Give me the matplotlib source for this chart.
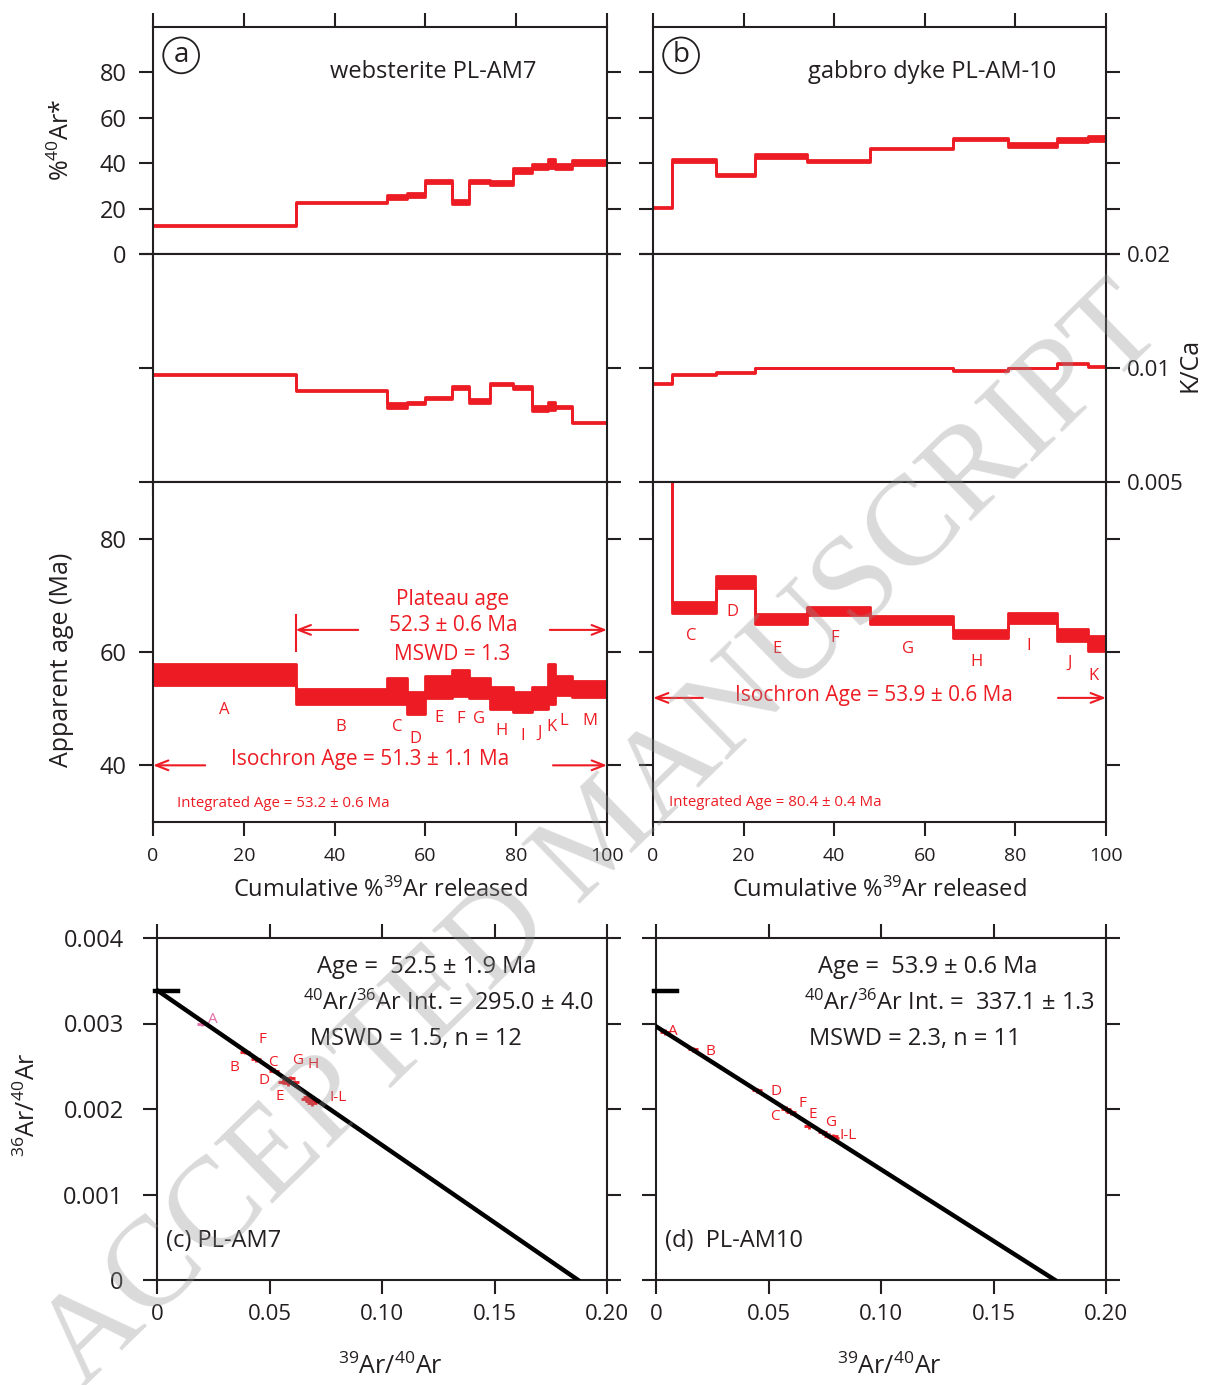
import numpy as np
import matplotlib.pyplot as plt

RED = '#ed1c24'
PINK = '#e36ea8'
INK = '#231f20'

plt.rcParams['font.family'] = ['Open Sans', 'DejaVu Sans']
plt.rcParams['mathtext.default'] = 'regular'

# ---- sample (a): websterite PL-AM7 ----
edges_a = [0, 31.4, 51.5, 55.9, 59.9, 65.9, 69.5, 74.3, 79.4, 83.4, 87.0, 88.5, 92.4, 100]
steps_a = ['A', 'B', 'C', 'D', 'E', 'F', 'G', 'H', 'I', 'J', 'K', 'L', 'M']
ar40_a = [12.6, 22.8, 25.1, 26.0, 31.9, 23.0, 31.9, 31.3, 36.6, 38.5, 39.8, 38.5, 40.4]
ar40_err_a = [0.3, 0.3, 0.7, 0.8, 0.8, 0.8, 0.6, 0.9, 1.1, 1.2, 2.0, 1.2, 1.2]
kca_a = [0.00960, 0.00871, 0.00795, 0.00807, 0.00832, 0.00889, 0.00818, 0.00906, 0.00888,
         0.00782, 0.00795, 0.00790, 0.00718]
kca_err_a = [0.00003, 0.00003, 0.00012, 0.00006, 0.00006, 0.0001, 0.0001, 0.00005, 0.00008,
             0.0001, 0.0002, 0.00006, 0.00003]
age_a = [56.0, 52.2, 53.1, 51.0, 53.8, 54.6, 53.6, 51.9, 51.2, 51.9, 54.3, 54.1, 53.5]
age_err_a = [1.8, 1.3, 2.3, 1.9, 2.0, 2.3, 1.8, 1.9, 1.8, 1.9, 3.5, 1.7, 1.4]
lab_age_a = [49.8, 46.7, 46.7, 44.7, 48.4, 48.1, 48.1, 46.0, 45.1, 45.8, 46.7, 47.9, 47.9]

# ---- sample (b): gabbro dyke PL-AM-10 ----
edges_b = [0, 4.3, 14.0, 22.5, 33.9, 48.0, 66.2, 78.4, 89.2, 96.1, 100]
steps_b = ['', 'C', 'D', 'E', 'F', 'G', 'H', 'I', 'J', 'K']
ar40_b = [20.6, 41.2, 34.8, 43.2, 41.0, 46.5, 50.7, 48.2, 50.2, 50.7]
ar40_err_b = [0.3, 0.6, 0.4, 0.7, 0.6, 0.3, 0.3, 0.9, 0.7, 1.1]
kca_b = [0.00908, 0.00961, 0.00971, 0.0100, 0.0100, 0.0100, 0.00985, 0.0100, 0.01026, 0.01011]
kca_err_b = [0.00003] * 10
age_b = [446.0, 67.8, 72.4, 65.8, 67.2, 65.7, 63.2, 66.0, 63.0, 61.5]
age_err_b = [3.0, 1.0, 1.1, 0.9, 0.7, 0.7, 0.7, 0.8, 1.0, 1.3]
lab_age_b = [0, 62.8, 67.0, 60.5, 62.5, 60.5, 58.2, 61.1, 58.1, 55.8]

# ---- inverse isochrons ----
iso_a_lab = ['A', 'B', 'C', 'D', 'E', 'F', 'G', 'H', 'I', 'J', 'K', 'L', 'M']
iso_a_x = [0.020, 0.039, 0.052, 0.056, 0.058, 0.044, 0.059, 0.061, 0.066, 0.068, 0.070, 0.069, 0.067]
iso_a_y = [0.00300, 0.00267, 0.00245, 0.00232, 0.00230, 0.00258, 0.00236, 0.00231,
           0.00212, 0.00209, 0.00210, 0.00207, 0.00214]
iso_a_int = 1 / 295.0
iso_a_xint = 0.1871

iso_b_lab = ['A', 'B', 'C', 'D', 'E', 'F', 'G', 'I', 'J', 'K', 'L']
iso_b_x = [0.004, 0.0164, 0.0576, 0.0447, 0.068, 0.060, 0.074, 0.077, 0.078, 0.079, 0.0785]
iso_b_y = [0.00290, 0.00270, 0.00200, 0.00222, 0.00180, 0.00196, 0.00173, 0.00169,
           0.00167, 0.00166, 0.00168]
iso_b_int = 1 / 337.1
iso_b_xint = 0.1773
atm = 1 / 295.5

W, H = 1206, 1385
fig = plt.figure(figsize=(W / 100, H / 100), dpi=100)


def box(x0, y0, x1, y1):
    # pixel box (top-left origin) -> axes rect
    return [x0 / W, 1 - y1 / H, (x1 - x0) / W, (y1 - y0) / H]


def ftext(x, y, s, **kw):
    fig.text(x / W, 1 - y / H, s, **kw)


def frame(ax):
    for s in ax.spines.values():
        s.set_linewidth(1.5)
        s.set_color(INK)
    ax.tick_params(direction='out', length=10, width=1.5, labelsize=15, colors=INK, pad=5)
    ax.tick_params(axis='y', labelsize=17, pad=9)


def spectrum(ax, edges, val, err):
    edges = np.asarray(edges, float)
    val = np.asarray(val, float)
    err = np.asarray(err, float)
    x = np.repeat(edges, 2)[1:-1]
    lo = np.repeat(val - err, 2)
    hi = np.repeat(val + err, 2)
    ax.fill_between(x, lo, hi, color=RED, lw=0)
    ax.plot(x, lo, color=RED, lw=2)
    ax.plot(x, hi, color=RED, lw=2)


cols = [(153, 607), (653, 1106)]
data = [
    (edges_a, ar40_a, ar40_err_a, kca_a, kca_err_a, age_a, age_err_a, steps_a, lab_age_a),
    (edges_b, ar40_b, ar40_err_b, kca_b, kca_err_b, age_b, age_err_b, steps_b, lab_age_b),
]
titles = ['websterite PL-AM7', 'gabbro dyke PL-AM-10']
circ = ['a', 'b']

for i, (x0, x1) in enumerate(cols):
    ed, ar, are, kc, kce, ag, age, st, lab = data[i]

    # %40Ar*
    ax1 = fig.add_axes(box(x0, 27, x1, 254))
    spectrum(ax1, ed, ar, are)
    ax1.set_xlim(0, 100)
    ax1.set_ylim(0, 100)
    ax1.set_xticks(range(0, 101, 20))
    ax1.set_yticks(range(0, 81, 20))
    frame(ax1)
    ax1.tick_params(axis='x', top=True, bottom=True, labelbottom=False)
    ax1.tick_params(axis='y', left=True, right=True, labelleft=(i == 0))
    ax1.text(0.617, 0.8, titles[i], transform=ax1.transAxes, ha='center', va='center',
             fontsize=17, color=INK)
    ax1.text(0.062, 0.875, circ[i], transform=ax1.transAxes, ha='center', va='center',
             fontsize=20, color=INK,
             bbox=dict(boxstyle='circle,pad=0.14', fc='none', ec=INK, lw=1.3))

    # K/Ca
    ax2 = fig.add_axes(box(x0, 254, x1, 482))
    spectrum(ax2, ed, kc, kce)
    ax2.set_yscale('log')
    ax2.set_xlim(0, 100)
    ax2.set_ylim(0.005, 0.02)
    ax2.set_xticks(range(0, 101, 20))
    ax2.set_yticks([0.005, 0.01, 0.02])
    ax2.minorticks_off()
    frame(ax2)
    ax2.tick_params(axis='x', top=False, bottom=True, labelbottom=False)
    ax2.tick_params(axis='y', left=True, right=True, labelleft=False, labelright=(i == 1),
                    labelsize=16, pad=5)
    ax2.set_yticklabels(['0.005', '0.01', '0.02'])

    # apparent age
    ax3 = fig.add_axes(box(x0, 482, x1, 822))
    spectrum(ax3, ed, ag, age)
    ax3.set_xlim(0, 100)
    ax3.set_ylim(30, 90)
    ax3.set_xticks(range(0, 101, 20))
    ax3.set_yticks([40, 60, 80])
    frame(ax3)
    ax3.tick_params(axis='x', labelsize=14, pad=8)
    ax3.tick_params(axis='y', left=True, right=True, labelleft=(i == 0))
    for k, s in enumerate(st):
        if s:
            xm = 0.5 * (ed[k] + ed[k + 1]) - (0 if i == 0 else 0.8)
            ax3.text(xm, lab[k], s, ha='center', va='center', fontsize=12, color=RED)

    arrow = dict(arrowstyle='->,head_length=0.9,head_width=0.35', color=RED, lw=1.5,
                 shrinkA=0, shrinkB=0)
    if i == 0:
        ax3.plot([31.4, 31.4], [60.2, 66.5], color=RED, lw=1.5)
        ax3.annotate('', xy=(31.4, 63.9), xytext=(45.2, 63.9), arrowprops=arrow)
        ax3.annotate('', xy=(100, 63.9), xytext=(87.4, 63.9), arrowprops=arrow,
                     annotation_clip=False)
        ax3.text(65.9, 69.3, 'Plateau age', ha='center', va='center', fontsize=15, color=RED)
        ax3.text(66.2, 64.6, '52.3 ± 0.6 Ma', ha='center', va='center', fontsize=15, color=RED)
        ax3.text(65.9, 59.5, 'MSWD = 1.3', ha='center', va='center', fontsize=15, color=RED)
        ax3.annotate('', xy=(0, 40), xytext=(11.5, 40), arrowprops=arrow, annotation_clip=False)
        ax3.annotate('', xy=(100, 40), xytext=(88.1, 40), arrowprops=arrow,
                     annotation_clip=False)
        ax3.text(47.8, 41.1, 'Isochron Age = 51.3 ± 1.1 Ma', ha='center', va='center',
                 fontsize=15, color=RED)
        ax3.text(5.3, 33.2, 'Integrated Age = 53.2 ± 0.6 Ma', ha='left', va='center',
                 fontsize=10.8, color=RED)
    else:
        ax3.annotate('', xy=(0, 51.9), xytext=(11.0, 51.9), arrowprops=arrow,
                     annotation_clip=False)
        ax3.annotate('', xy=(100, 51.9), xytext=(89.4, 51.9), arrowprops=arrow,
                     annotation_clip=False)
        ax3.text(48.8, 52.3, 'Isochron Age = 53.9 ± 0.6 Ma', ha='center', va='center',
                 fontsize=15, color=RED)
        ax3.text(3.5, 33.5, 'Integrated Age = 80.4 ± 0.4 Ma', ha='left', va='center',
                 fontsize=10.8, color=RED)

    ftext((x0 + x1) / 2, 890, 'Cumulative %$^{39}$Ar released', ha='center', va='center',
          fontsize=17, color=INK)

ftext(62, 140, '%$^{40}$Ar*', rotation=90, ha='center', va='center', fontsize=18, color=INK)
ftext(62, 660, 'Apparent age (Ma)', rotation=90, ha='center', va='center', fontsize=18,
      color=INK)
ftext(1190, 365, 'K/Ca', rotation=90, ha='center', va='center', fontsize=18, color=INK)

# ---- isochron panels ----
iso = [
    (157, 607, iso_a_lab, iso_a_x, iso_a_y, iso_a_int, iso_a_xint, '(c) PL-AM7',
     ['Age =  52.5 ± 1.9 Ma', '$^{40}$Ar/$^{36}$Ar Int. =  295.0 ± 4.0', 'MSWD = 1.5, n = 12']),
    (656, 1106, iso_b_lab, iso_b_x, iso_b_y, iso_b_int, iso_b_xint, '(d)  PL-AM10',
     ['Age =  53.9 ± 0.6 Ma', '$^{40}$Ar/$^{36}$Ar Int. =  337.1 ± 1.3', 'MSWD = 2.3, n = 11']),
]
lab_pos_a = [(0.0249, 0.00305), (0.0342, 0.00248), (0.0516, 0.00254), (0.0476, 0.00233),
             (0.0547, 0.00215), (0.0467, 0.00281), (0.0627, 0.00257), (0.0693, 0.00252),
             (0.0804, 0.00214)]
lab_txt_a = ['A', 'B', 'C', 'D', 'E', 'F', 'G', 'H', 'I-L']
lab_pos_b = [(0.0076, 0.00291), (0.0243, 0.00267), (0.0529, 0.00191), (0.0533, 0.00220),
             (0.0698, 0.00194), (0.0649, 0.00207), (0.0778, 0.00184), (0.0853, 0.00169)]
lab_txt_b = ['A', 'B', 'C', 'D', 'E', 'F', 'G', 'I-L']
labs = [(lab_txt_a, lab_pos_a), (lab_txt_b, lab_pos_b)]

for i, (x0, x1, ll, xs, ys, b, xi, name, txt) in enumerate(iso):
    ax = fig.add_axes(box(x0, 938, x1, 1280))
    cols_pts = [PINK if (i == 0 and s == 'A') else RED for s in ll]
    for xx, yy, c in zip(xs, ys, cols_pts):
        ax.errorbar(xx, yy, xerr=0.0022, yerr=0.00003, fmt='none', ecolor=c, elinewidth=2)
    xl = np.array([0, xi])
    ax.plot(xl, b * (1 - xl / xi), color='black', lw=3.2, zorder=5)
    ax.plot([-0.0008, 0.0095], [atm, atm], color='black', lw=3.2, clip_on=False, zorder=5)
    for s, (px_, py_) in zip(*labs[i]):
        c = PINK if (i == 0 and s == 'A') else RED
        ax.text(px_, py_, s, ha='center', va='center', fontsize=11, color=c)
    ax.set_xlim(0, 0.2)
    ax.set_ylim(0, 0.004)
    ax.set_xticks([0, 0.05, 0.10, 0.15, 0.20])
    ax.set_xticklabels(['0', '0.05', '0.10', '0.15', '0.20'])
    ax.set_yticks([0, 0.001, 0.002, 0.003, 0.004])
    ax.set_yticklabels(['0', '0.001', '0.002', '0.003', '0.004'])
    frame(ax)
    ax.tick_params(axis='x', top=True, bottom=True, labelsize=16, pad=7)
    ax.tick_params(axis='y', left=True, right=True, labelleft=(i == 0), labelsize=17, pad=14)
    ax.text(0.355 if i == 0 else 0.36, 0.915, txt[0], transform=ax.transAxes, fontsize=17,
            va='center', ha='left', color=INK)
    ax.text(0.325 if i == 0 else 0.33, 0.81, txt[1], transform=ax.transAxes, fontsize=17,
            va='center', ha='left', color=INK)
    ax.text(0.34 if i == 0 else 0.34, 0.705, txt[2], transform=ax.transAxes, fontsize=17,
            va='center', ha='left', color=INK)
    ax.text(0.02, 0.115, name, transform=ax.transAxes, fontsize=17, va='center', ha='left',
            color=INK)
    ftext((x0 + x1) / 2 + 8, 1367, '$^{39}$Ar/$^{40}$Ar', ha='center', va='center',
          fontsize=18, color=INK)

ftext(28, 1105, '$^{36}$Ar/$^{40}$Ar', rotation=90, ha='center', va='center', fontsize=18,
      color=INK)

# watermark
fig.text(0.50, 0.395, 'ACCEPTED MANUSCRIPT', rotation=44.3, rotation_mode='anchor',
         ha='center', va='center', fontsize=92, family='Liberation Serif', color='#909090',
         alpha=0.33, zorder=100)

fig.savefig('out.png', dpi=100)
